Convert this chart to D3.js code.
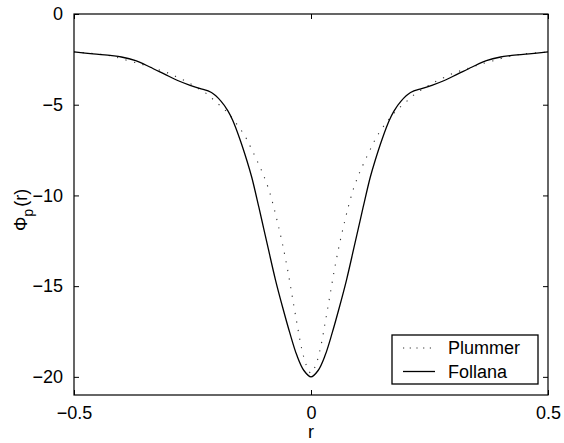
<!DOCTYPE html>
<html>
<head>
<meta charset="utf-8">
<script src="https://cdn.jsdelivr.net/npm/d3@7"></script>
<style>
body { margin: 0; background: #fff; }
text { font-family: "Liberation Sans", Arial, sans-serif; }
</style>
</head>
<body>
<svg width="564" height="443"></svg>
<script>

// radius values
var follanaR = [-0.5, -0.46, -0.42, -0.40, -0.37, -0.34, -0.31, -0.28, -0.255, -0.235, -0.21, -0.19, -0.175, -0.165, -0.15, -0.135, -0.125, -0.11, -0.10, -0.09, -0.075, -0.06, -0.045, -0.03, -0.015, 0,
                0.015, 0.03, 0.045, 0.06, 0.075, 0.09, 0.10, 0.11, 0.125, 0.135, 0.15, 0.165, 0.175, 0.19, 0.21, 0.235, 0.255, 0.28, 0.31, 0.34, 0.37, 0.40, 0.42, 0.46, 0.5];
var follanaPhi = [-2.09, -2.2, -2.3, -2.37, -2.57, -2.92, -3.3, -3.68, -3.93, -4.1, -4.33, -4.8, -5.35, -5.87, -6.9, -8.1, -9.0, -10.65, -11.8, -12.95, -14.65, -16.15, -17.55, -18.8, -19.65, -20.0,
                  -19.65, -18.8, -17.55, -16.15, -14.65, -12.95, -11.8, -10.65, -9.0, -8.1, -6.9, -5.87, -5.35, -4.8, -4.33, -4.1, -3.93, -3.68, -3.3, -2.92, -2.57, -2.37, -2.3, -2.2, -2.09];

var plummerR = [-0.5, -0.45, -0.42, -0.39, -0.36, -0.34, -0.32, -0.30, -0.28, -0.26, -0.24, -0.22, -0.20, -0.18, -0.16, -0.14, -0.125, -0.11, -0.10, -0.09, -0.08, -0.07, -0.06, -0.05, -0.04, -0.03, -0.02, -0.01, 0,
                0.01, 0.02, 0.03, 0.04, 0.05, 0.06, 0.07, 0.08, 0.09, 0.10, 0.11, 0.125, 0.14, 0.16, 0.18, 0.20, 0.22, 0.24, 0.26, 0.28, 0.30, 0.32, 0.34, 0.36, 0.39, 0.42, 0.45, 0.5];
var plummerPhi = [-2.1, -2.2, -2.32, -2.54, -2.75, -2.92, -3.09, -3.27, -3.51, -3.76, -4.07, -4.4, -4.86, -5.33, -5.95, -6.7, -7.47, -8.3, -8.9, -9.6, -10.5, -11.55, -12.7, -14.0, -15.5, -17.0, -18.4, -19.35, -19.8,
                  -19.35, -18.4, -17.0, -15.5, -14.0, -12.7, -11.55, -10.5, -9.6, -8.9, -8.3, -7.47, -6.7, -5.95, -5.33, -4.86, -4.4, -4.07, -3.76, -3.51, -3.27, -3.09, -2.92, -2.75, -2.54, -2.32, -2.2, -2.1];

var xTicks = [-0.5, 0, 0.5];
var yTicks = [0, -5, -10, -15, -20];
var seriesNames = ["Plummer", "Follana"];

var svg = d3.select("svg"),
    plotL = 74, plotR = 548, plotT = 14, plotB = 395;

var x = d3.scaleLinear().domain([-0.5, 0.5]).range([plotL, plotR]);
var y = d3.scaleLinear().domain([-21, 0]).range([plotB, plotT]);

var fmt = function(d) { return (d + "").replace("-", "\u2212"); };

// axes with inward ticks on all four sides
svg.append("g")
    .attr("transform", "translate(0," + plotB + ")")
    .call(d3.axisBottom(x).tickValues(xTicks).tickSizeInner(-5).tickSizeOuter(0).tickPadding(11).tickFormat(fmt));
svg.append("g")
    .attr("transform", "translate(0," + plotT + ")")
    .call(d3.axisTop(x).tickValues(xTicks).tickSizeInner(-5).tickSizeOuter(0).tickFormat(""));
svg.append("g")
    .attr("transform", "translate(" + plotL + ",0)")
    .call(d3.axisLeft(y).tickValues(yTicks).tickSizeInner(-5).tickSizeOuter(0).tickPadding(11).tickFormat(fmt));
svg.append("g")
    .attr("transform", "translate(" + plotR + ",0)")
    .call(d3.axisRight(y).tickValues(yTicks).tickSizeInner(-5).tickSizeOuter(0).tickFormat(""));

svg.selectAll(".domain").remove();
svg.selectAll(".tick line").attr("stroke", "#000");
svg.selectAll(".tick text").attr("font-size", 18).attr("fill", "#000")
    .attr("font-family", "'Liberation Sans', Arial, sans-serif");

svg.append("rect")
    .attr("x", plotL).attr("y", plotT)
    .attr("width", plotR - plotL).attr("height", plotB - plotT)
    .attr("fill", "none").attr("stroke", "#000").attr("stroke-width", 1.2);

var line = d3.line()
    .x(function(d) { return x(d[0]); })
    .y(function(d) { return y(d[1]); })
    .curve(d3.curveCatmullRom.alpha(0.5));

svg.append("path")
    .datum(d3.zip(plummerR, plummerPhi))
    .attr("fill", "none")
    .attr("stroke", "#333")
    .attr("stroke-width", 1.1)
    .attr("stroke-dasharray", "1.2,7.5")
    .attr("d", line);

svg.append("path")
    .datum(d3.zip(follanaR, follanaPhi))
    .attr("fill", "none")
    .attr("stroke", "#000")
    .attr("stroke-width", 1.3)
    .attr("d", line);

// axis labels
svg.append("text")
    .attr("x", x(0)).attr("y", 438)
    .attr("text-anchor", "middle")
    .attr("font-size", 18)
    .text("r");

var ylab = svg.append("text")
    .attr("transform", "translate(27," + (y(-10.8)) + ") rotate(-90)")
    .attr("text-anchor", "middle")
    .attr("font-size", 18);
ylab.append("tspan").text("\u03A6");
ylab.append("tspan").attr("font-size", 14).attr("dy", 6).text("p");
ylab.append("tspan").attr("dy", -6).attr("dx", 2).text("(r)");

// legend
var lg = svg.append("g").attr("transform", "translate(392,335)");
lg.append("rect")
    .attr("width", 146).attr("height", 49)
    .attr("fill", "#fff").attr("stroke", "#000").attr("stroke-width", 1.3);

var item = lg.selectAll(".item")
    .data(seriesNames)
    .enter().append("g")
    .attr("transform", function(d, i) { return "translate(0," + (13 + i * 23.5) + ")"; });

item.append("line")
    .attr("x1", 11).attr("x2", 43)
    .attr("stroke", function(d, i) { return i == 0 ? "#333" : "#000"; })
    .attr("stroke-width", function(d, i) { return i == 0 ? 1.1 : 1.3; })
    .attr("stroke-dasharray", function(d, i) { return i == 0 ? "1.2,5.5" : null; });

item.append("text")
    .attr("x", 56).attr("dy", "0.35em")
    .attr("font-size", 18)
    .text(function(d) { return d; });

</script>
</body>
</html>
